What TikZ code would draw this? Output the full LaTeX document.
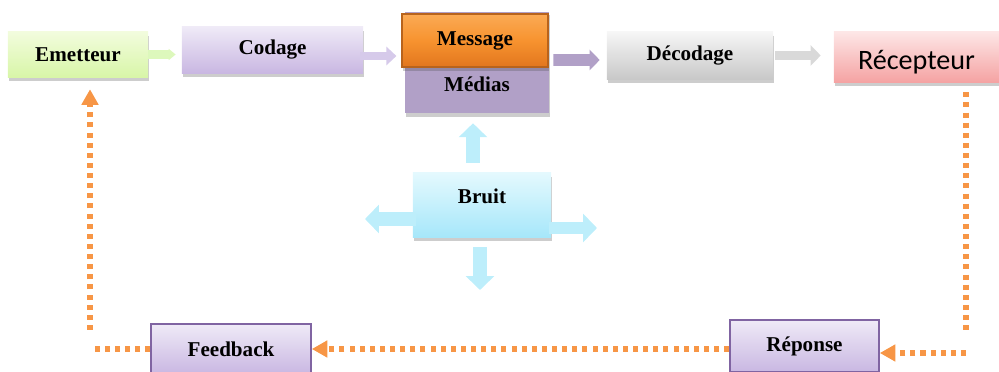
\documentclass[tikz,border=0pt]{standalone}
\usepackage{fontspec}
\setmainfont{Liberation Serif}
\newfontfamily\recfont{Carlito}
\usetikzlibrary{arrows.meta, calc, shadows}

\definecolor{emTop}{HTML}{F2FCDD}
\definecolor{emBot}{HTML}{D8F6A8}
\definecolor{lavTop}{HTML}{EFEAF7}
\definecolor{lavBot}{HTML}{C9B7E2}
\definecolor{lavLine}{HTML}{8064A2}
\definecolor{orTop}{HTML}{FBAA55}
\definecolor{orMid}{HTML}{F7932F}
\definecolor{orBot}{HTML}{E2761E}
\definecolor{orLine}{HTML}{B8631C}
\definecolor{mediaFill}{HTML}{B1A0C7}
\definecolor{greyTop}{HTML}{F6F6F6}
\definecolor{greyBot}{HTML}{C8C8C8}
\definecolor{pinkTop}{HTML}{FDE6E6}
\definecolor{pinkBot}{HTML}{F5A3A3}
\definecolor{cyanTop}{HTML}{E4F9FE}
\definecolor{cyanBot}{HTML}{A6E7FA}
\definecolor{cyanArrow}{HTML}{BDEEFB}
\definecolor{greenArrow}{HTML}{DDF8BC}
\definecolor{lavArrow}{HTML}{D6CAEA}
\definecolor{greyArrow}{HTML}{D9D9D9}
\definecolor{feedOrange}{HTML}{F79646}

\begin{document}
\begin{tikzpicture}[
    x=0.025cm, y=-0.025cm,
    box/.style={rectangle, inner sep=0pt, font=\fontsize{15}{18}\selectfont\bfseries,
        drop shadow={shadow xshift=0.6pt, shadow yshift=-2.5pt, opacity=0.28, fill=black!70}},
    lbl/.style={font=\fontsize{15}{18}\selectfont\bfseries},
    fat/.style n args={4}{draw=#1, line width=#2, -{Triangle[width=#3, length=#4]}},
    noise/.style={fat={cyanArrow}{9.9pt}{19.8pt}{9.9pt}},
    feedline/.style={draw=feedOrange, line width=4pt, dash pattern=on 3.6pt off 3.6pt},
    feedtip/.style={-{Triangle[width=11.5pt, length=11pt]}}
]
\useasboundingbox (0,0) rectangle (999,372);

\node[box, top color=emTop, bottom color=emBot, minimum width=3.5cm, minimum height=1.125cm]
    (emetteur) at (78,54.5) {Emetteur};
\node[box, top color=lavTop, bottom color=lavBot, minimum width=4.525cm, minimum height=1.15cm]
    (codage) at (272.5,50) {Codage};
\node[box, fill=mediaFill, minimum width=3.6cm, minimum height=2.525cm]
    (medias) at (477,62.5) {};
\node[lbl] (mediaslabel) at (477,84) {Médias};
\node[box, top color=orTop, bottom color=orBot, middle color=orMid, draw=orLine, thick,
    minimum width=3.65cm, minimum height=1.325cm] (message) at (475,40.5) {Message};
\node[box, top color=greyTop, bottom color=greyBot, minimum width=4.15cm, minimum height=1.175cm]
    (decodage) at (690,55.5) {Décodage};
\node[box, top color=pinkTop, bottom color=pinkBot, minimum width=4.125cm, minimum height=1.25cm]
    (recepteur) at (916.5,57) {};
\node[anchor=base, font=\recfont\fontsize{20}{24}\selectfont] (receplabel) at (916.5,70) {Récepteur};

\node[box, top color=cyanTop, bottom color=cyanBot, minimum width=3.45cm, minimum height=1.6cm]
    (bruit) at (482,205) {};
\node[lbl] (bruitlabel) at (482,196) {Bruit};

\node[box, top color=lavTop, bottom color=lavBot, draw=lavLine, line width=1.1pt,
    minimum width=4cm, minimum height=1.25cm] (feedback) at (231,349) {Feedback};
\node[box, top color=lavTop, bottom color=lavBot, draw=lavLine, line width=1.1pt,
    minimum width=3.725cm, minimum height=1.3cm] (reponse) at (804.5,346) {Réponse};

\draw[fat={greenArrow}{5.7pt}{7.8pt}{5pt}, shorten >=0.15cm]
    (emetteur.east) -- (emetteur.east -| codage.west);
\draw[fat={lavArrow}{5.7pt}{12.8pt}{7.1pt}, shorten <=-0.075cm, shorten >=0.125cm]
    ($(codage.east)+(0,6)$) -- ($(codage.east -| message.west)+(0,6)$);
\draw[fat={mediaFill}{8.5pt}{14.2pt}{7.1pt}, shorten <=0.1cm, shorten >=0.175cm]
    ($(medias.east)+(0,-2.5)$) -- ($(decodage.west)+(0,4.5)$);
\draw[fat={greyArrow}{7.1pt}{14.2pt}{7.1pt}, shorten <=0.05cm, shorten >=0.325cm]
    (decodage.east) -- (recepteur.west |- decodage.east);

\coordinate (noiseW) at (365,219);
\coordinate (noiseE) at (597,228);
\coordinate (noiseS) at (480,290);
\draw[noise, shorten <=0.25cm, shorten >=0.25cm]
    ($(bruit.north)+(-9,0)$) -- ($(medias.south)+(-4,0)$);
\draw[noise, shorten <=-0.075cm] ($(bruit.west)+(0,14)$) -- (noiseW);
\draw[noise, line width=8.5pt, shorten <=-0.05cm] ($(bruit.east)+(0,23)$) -- (noiseE);
\draw[noise, shorten <=0.25cm] ($(bruit.south)+(-2,0)$) -- (noiseS);

\coordinate (cornerR) at (966,353);
\coordinate (cornerL) at (90,349);
\draw[feedline, shorten <=0.25cm, shorten >=0.575cm] (recepteur.south -| cornerR) -- (cornerR);
\draw[feedline, feedtip] (cornerR) -- (cornerR -| reponse.east);
\draw[feedline, feedtip] (reponse.west |- feedback.east) -- (feedback.east);
\draw[feedline, shorten >=0.05cm] (feedback.west) -- (cornerL);
\draw[feedline, feedtip, shorten <=0.475cm, shorten >=0.3cm] (cornerL) -- (cornerL |- emetteur.south);

\end{tikzpicture}
\end{document}
